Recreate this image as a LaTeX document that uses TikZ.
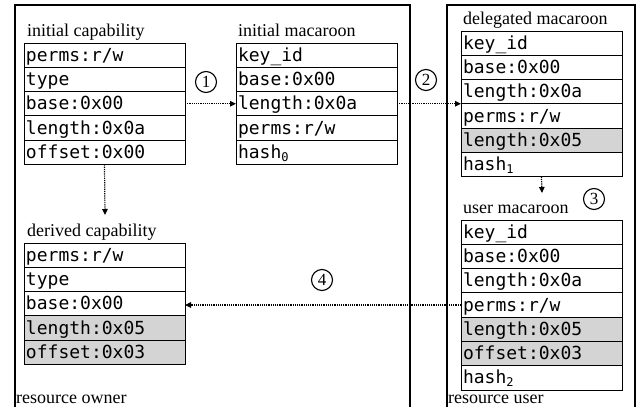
\documentclass[tikz,border=0pt]{standalone}
\usepackage{fontspec}
\setmainfont{Liberation Serif}
\newfontfamily\cellfont{DejaVu Sans Mono}
\usetikzlibrary{arrows.meta}
\definecolor{cellgray}{HTML}{D4D4D4}
\newcommand{\sub}[1]{\raisebox{-3pt}{\fontsize{12}{12}\selectfont #1}}
\tikzset{
  cell/.style={draw=black, line width=0.9pt, fill=white, outer sep=0pt,
    minimum height=24.3pt, text width=157pt, inner xsep=2pt, inner ysep=0pt,
    text height=15pt, text depth=3pt, align=left, anchor=north west,
    font=\cellfont\fontsize{18}{18}\selectfont},
  hl/.style={fill=cellgray},
  ttl/.style={anchor=base west, inner sep=0pt, font=\fontsize{18}{18}\selectfont},
  numcirc/.style={draw, circle, line width=1.1pt, minimum size=21pt, inner sep=0pt,
    font=\fontsize{17}{17}\selectfont},
  flow/.style={line width=1.2pt, dash pattern=on 1.2pt off 1pt,
    -{Triangle[length=6pt,width=5.5pt]}},
  frame/.style={line width=1.8pt}
}
\begin{document}
\begin{tikzpicture}[x=1pt,y=-1pt]
\useasboundingbox (0,0) rectangle (638,407);
% frames
\draw[frame] (15,410) -- (15,5) -- (410,5) -- (410,410);
\draw[frame] (447,410) -- (447,5) -- (635,5) -- (635,410);
\node[ttl] (owner) at (16,403) {resource owner};
\node[ttl] (user) at (448,403) {resource user};

% initial capability
\node[ttl] (tc) at (27,36) {initial capability};
\node[cell] (c1) at (24,43) {perms:r/w};
\node[cell] (c2) at (c1.south west) {type};
\node[cell] (c3) at (c2.south west) {base:0x00};
\node[cell] (c4) at (c3.south west) {length:0x0a};
\node[cell] (c5) at (c4.south west) {offset:0x00};

% initial macaroon
\node[ttl] (tm) at (238,36) {initial macaroon};
\node[cell] (m1) at (236,43) {key\_id};
\node[cell] (m2) at (m1.south west) {base:0x00};
\node[cell] (m3) at (m2.south west) {length:0x0a};
\node[cell] (m4) at (m3.south west) {perms:r/w};
\node[cell] (m5) at (m4.south west) {hash\sub{0}};

% delegated macaroon
\node[ttl] (td) at (463,24) {delegated macaroon};
\node[cell] (d1) at (461,31) {key\_id};
\node[cell] (d2) at (d1.south west) {base:0x00};
\node[cell] (d3) at (d2.south west) {length:0x0a};
\node[cell] (d4) at (d3.south west) {perms:r/w};
\node[cell,hl] (d5) at (d4.south west) {length:0x05};
\node[cell] (d6) at (d5.south west) {hash\sub{1}};

% user macaroon
\node[ttl] (tu) at (463,213) {user macaroon};
\node[cell] (u1) at (461,220) {key\_id};
\node[cell] (u2) at (u1.south west) {base:0x00};
\node[cell] (u3) at (u2.south west) {length:0x0a};
\node[cell] (u4) at (u3.south west) {perms:r/w};
\node[cell,hl] (u5) at (u4.south west) {length:0x05};
\node[cell,hl] (u6) at (u5.south west) {offset:0x03};
\node[cell] (u7) at (u6.south west) {hash\sub{2}};

% derived capability
\node[ttl] (tv) at (27,236) {derived capability};
\node[cell] (v1) at (24,243) {perms:r/w};
\node[cell] (v2) at (v1.south west) {type};
\node[cell] (v3) at (v2.south west) {base:0x00};
\node[cell,hl] (v4) at (v3.south west) {length:0x05};
\node[cell,hl] (v5) at (v4.south west) {offset:0x03};

% connectors
\coordinate (a3end) at (542,193);
\coordinate (adend) at (105,215);
\draw[flow] (c3.east) -- (m3.west);
\draw[flow] (m3.east) -- (m3.east -| d1.west);
\draw[flow] (d6.south) -- (a3end);
\draw[flow] (c5.south) -- (adend);
\draw[flow] (u4.west) -- (u4.west -| v3.east);

% step numbers
\node[numcirc] (n1) at (206,82) {1};
\node[numcirc] (n2) at (426,80) {2};
\node[numcirc] (n3) at (594,199) {3};
\node[numcirc] (n4) at (322,280) {4};
\end{tikzpicture}
\end{document}
